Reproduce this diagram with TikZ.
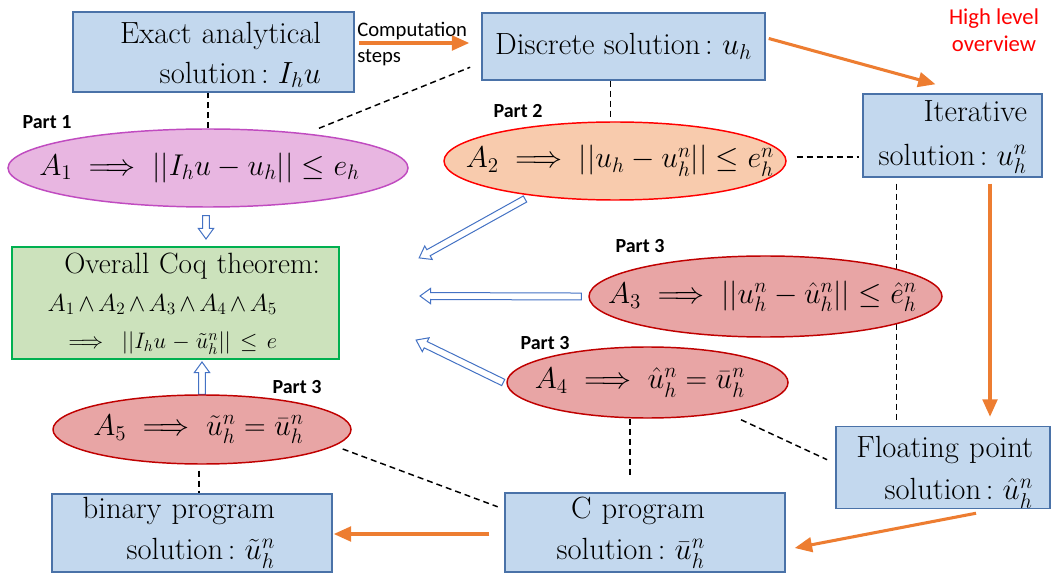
\RequirePackage{fix-cm}
\documentclass[tikz,border=0pt]{standalone}
\usepackage{amsmath,amssymb}
\usepackage{fontspec}
\newfontfamily\calibri{Carlito}
\usetikzlibrary{arrows.meta,calc,shapes.geometric,backgrounds}
\newdimen\PX \PX=0.75pt
\definecolor{boxf}{HTML}{C3D8EE}
\definecolor{boxd}{HTML}{4A72A8}
\definecolor{orng}{HTML}{ED7D31}
\definecolor{pinkf}{HTML}{E8B6E1}
\definecolor{pinkd}{HTML}{C04BC0}
\definecolor{peachf}{HTML}{F8CBAD}
\definecolor{peachd}{HTML}{FF0000}
\definecolor{rosef}{HTML}{E8A5A5}
\definecolor{rosed}{HTML}{C00000}
\definecolor{greenf}{HTML}{CCE2BC}
\definecolor{greend}{HTML}{00B050}
\definecolor{harrowc}{HTML}{4472C4}
\newcommand\solc{solution\hspace{.15em}:\hspace{.3em}}
\newcommand\rpad[1]{\rule{#1\PX}{0pt}}
\newcommand\smA[1]{{\fontsize{18.5}{22}\selectfont$#1$}}
\newcommand\smB[1]{{\fontsize{16.8}{20}\selectfont$#1$}}
\newcommand\wdg{\mkern2.5mu{\wedge}\mkern2.5mu}
\newcommand\hollowarrow[2]{%
  \path[harrow] let \p1=(#1), \p2=(#2),
    \n1={atan2(\y2-\y1,\x2-\x1)}, \n2={veclen(\x2-\x1,\y2-\y1)} in
    {[shift={(\p1)}, rotate=\n1]
     (0pt,-2.6pt) -- ({\n2*1pt-8pt},-2.6pt) -- ({\n2*1pt-8pt},-5.8pt) -- ({\n2*1pt},0pt)
     -- ({\n2*1pt-8pt},5.8pt) -- ({\n2*1pt-8pt},2.6pt) -- (0pt,2.6pt) -- cycle};}
\begin{document}
\begin{tikzpicture}[x=0.75pt,y=-0.75pt,
  box/.style={draw=boxd, fill=boxf, line width=1.1pt, inner sep=0pt, rectangle},
  bigtxt/.style={font=\fontsize{23}{#1}\selectfont},
  elltxt/.style={font=\fontsize{22.5}{26}\selectfont},
  ell/.style={ellipse, line width=1.1pt, inner sep=0pt},
  dsh/.style={draw=black, line width=1.1pt, dash pattern=on 4.5pt off 3pt},
  oarr/.style={draw=orng, line width=2.3pt, -{Triangle[length=13pt,width=11pt]}},
  harrow/.style={draw=harrowc, fill=white, line width=0.75pt},
  partlbl/.style={font=\calibri\bfseries\fontsize{15}{18}\selectfont, inner sep=0pt}]
\useasboundingbox (0,0) rectangle (1052,573);

% boxes
\node[box, bigtxt=30, minimum width=281\PX, minimum height=80\PX, text width=215\PX, align=right] (exact) at (213.5,52) {\rule{0pt}{20pt}Exact analytical\\\solc$I_hu$};
\node[box, bigtxt=30, minimum width=283\PX, minimum height=67\PX] (disc) at (623.5,46.5) {Discrete \solc$u_h$};
\node[box, bigtxt=33, minimum width=179\PX, minimum height=83\PX, text width=169\PX, align=right] (iter) at (952.5,135.5) {\rule{0pt}{18pt}Iterative\rpad{10}\\\solc$u_h^n$\rpad{10}};
\node[box, bigtxt=32, minimum width=214\PX, minimum height=77\PX, text width=180\PX, align=right] (flt) at (943,467.5) {\rule{0pt}{23pt}Floating point\\\solc$\hat{u}_h^n$};
\node[box, bigtxt=31, minimum width=280\PX, minimum height=79\PX, text width=200\PX, align=right] (cprog) at (645,532.5) {C program\rpad{40}\\\solc$\bar{u}_h^n$\rpad{40}};
\node[box, bigtxt=31, minimum width=280\PX, minimum height=78\PX, text width=226\PX, align=right] (bin) at (192,533) {binary program\rpad{30}\\\solc$\tilde{u}_h^n$\rpad{30}};
\node[draw=greend, fill=greenf, line width=1.1pt, inner sep=0pt, font=\fontsize{22}{28}\selectfont, minimum width=327\PX, minimum height=112\PX, text width=289\PX, align=right] (overall) at (175.5,303) {\rule{0pt}{17pt}Overall Coq theorem:\\\smA{A_1\wdg A_2\wdg A_3\wdg A_4\wdg A_5}\rpad{43}\\\smB{\implies ||I_hu-\tilde{u}_h^n||\leq e}\rpad{43}};

% ellipses
\node[ell, draw=pinkd, fill=pinkf, minimum width=400\PX, minimum height=78\PX, elltxt] (A1) at (208,168) {\makebox[0pt]{\hspace*{-17\PX}$A_1\implies ||I_hu-u_h||\leq e_h$}};
\node[ell, draw=peachd, fill=peachf, minimum width=342\PX, minimum height=78\PX, elltxt] (A2) at (615,161) {\makebox[0pt]{\hspace*{10\PX}$A_2\implies ||u_h-u_h^n||\leq e_h^n$}};
\node[ell, draw=rosed, fill=rosef, minimum width=353\PX, minimum height=81\PX, elltxt] (A3) at (765.5,296.5) {\makebox[0pt]{\hspace*{-6\PX}$A_3\implies ||u_h^n-\hat{u}_h^n||\leq \hat{e}_h^n$}};
\node[ell, draw=rosed, fill=rosef, minimum width=281\PX, minimum height=71\PX, elltxt] (A4) at (647.5,382.5) {\makebox[0pt]{\hspace*{-15\PX}$A_4\implies \hat{u}_h^n=\bar{u}_h^n$}};
\node[ell, draw=rosed, fill=rosef, minimum width=298\PX, minimum height=69\PX, elltxt] (A5) at (202,429.5) {\makebox[0pt]{\hspace*{-7\PX}$A_5\implies \tilde{u}_h^n=\bar{u}_h^n$}};

% labels
\node[partlbl] (p1) at (47,122) {Part 1};
\node[partlbl] (p2) at (518,111) {Part 2};
\node[partlbl] (p3a) at (640,246) {Part 3};
\node[partlbl] (p3b) at (545,343) {Part 3};
\node[partlbl] (p3c) at (297,387) {Part 3};
\node[font=\calibri\fontsize{15.5}{19.5}\selectfont, inner sep=0pt, anchor=west, align=left] (comp) at (357,44) {Computation\\steps};
\node[font=\calibri\fontsize{17}{20}\selectfont, text=red, inner sep=0pt, align=center] (hlo) at (994,30) {High level\\overview};

% free ends and helper points
\coordinate (t1) at (206,239);
\coordinate (t2) at (419,258);
\coordinate (t3) at (420,296);
\coordinate (t4) at (416,340);
\coordinate (t5) at (202,362);
\coordinate (d2) at ($(A2.east)+(0,-4)$);
\coordinate (d3) at ($(iter.south west)+(34,6)$);

\begin{scope}[on background layer]
  % dashed
  \draw[dsh] (A1.north) -- (A1.north |- exact.south);
  \draw[dsh, shorten >=12\PX] ($(A1.north)+(111,0)$) -- ($(disc.south west)+(0,-18)$);
  \draw[dsh] ($(disc.south)+(-13,0)$) -- ++(0,38);
  \draw[dsh, shorten <=10\PX, shorten >=3\PX] (d2) -- (d2 -| iter.west);
  \draw[dsh, shorten >=4\PX] (d3) -- (d3 |- flt.north);
  \draw[dsh] ($(A4.south)+(-17.5,0)$) -- ++(0,60);
  \draw[dsh, shorten >=9\PX] ($(A4.south)+(93.5,1)$) -- ($(flt.west)+(0,-4)$);
  \draw[dsh, shorten >=7\PX] ($(A5.east)+(-9,19.5)$) -- ($(cprog.north west)+(0,17)$);
  \draw[dsh] ($(A5.south)+(-3,6)$) -- ($(bin.north)+(7,0)$);
  % hollow arrows
  \hollowarrow{$(A1.south)+(-2,8)$}{t1}
  \hollowarrow{$(A2.center)+(-90,38)$}{t2}
  \hollowarrow{$(A3.west)+(-7,0)$}{t3}
  \hollowarrow{$(A4.west)+(-3,0)$}{t4}
  \hollowarrow{A5.north}{t5}
\end{scope}

% orange arrows
\draw[oarr] ($(exact.east)+(4,-9)$) -- ($(disc.west)+(-12,-3.5)$);
\draw[oarr] ($(disc.east)+(3,-8)$) -- ($(iter.north)+(-17,-9)$);
\draw[oarr] ($(iter.south)+(37.5,6)$) -- ($(flt.north)+(47,-9)$);
\draw[oarr] ($(flt.south)+(33,4)$) -- ($(cprog.east)+(9,15.5)$);
\draw[oarr] ($(cprog.west)+(-15,1.5)$) -- ($(bin.east)+(1,1)$);
\end{tikzpicture}
\end{document}
